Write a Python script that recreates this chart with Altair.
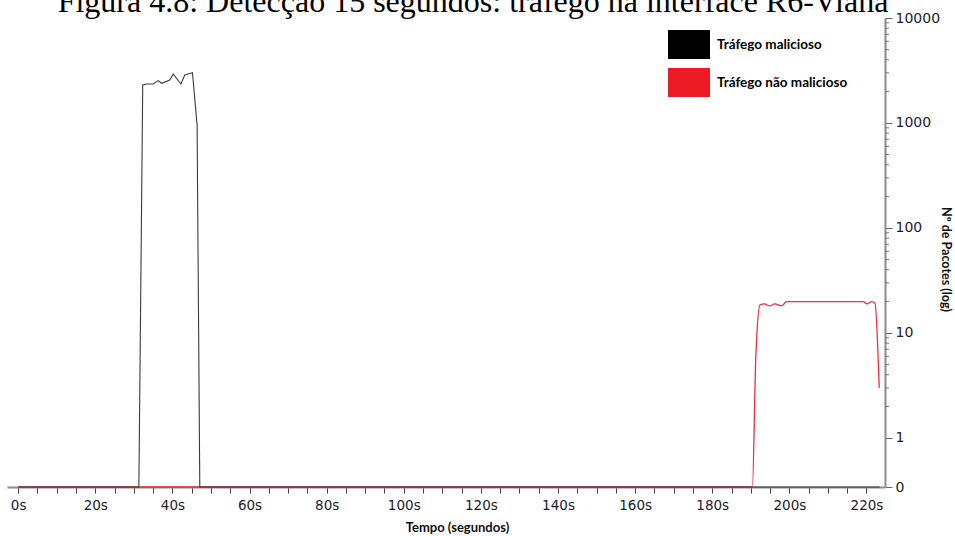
import altair as alt
import pandas as pd

# Packets per time sample, malicious traffic (black series)
mal_t = [0, 31.3, 32.3, 33.3, 35.0, 36.3, 37.2, 39.3, 40.2, 42.2, 43.2, 45.2, 46.4, 47.1, 223.4]
mal_pkts = [0, 0, 2300, 2350, 2350, 2530, 2390, 2570, 2930, 2350, 2870, 3010, 955, 0, 0]

# Packets per time sample, non-malicious traffic (red series)
ok_t = [0, 190.4, 191.3, 192.4, 193.6, 194.9, 196.2, 198.0, 199.3, 219.1, 220.2, 221.3, 222.2, 223.3]
ok_pkts = [0, 0, 6, 18.5, 18.9, 18.1, 18.9, 18.1, 19.9, 19.9, 18.9, 19.9, 19.2, 3]

series_names = ["Tráfego malicioso", "Tráfego não malicioso"]
series_colors = ["#000000", "#ed1c24"]

x_tick_values = list(range(0, 225, 5))
y_tick_packets = [0, 1, 10, 100, 1000, 10000]
minor_tick_packets = [m * 10 ** k for k in range(0, 4) for m in range(2, 10)]

TITLE = "Figura 4.8: Detecção 15 segundos: tráfego na interface R6-Viana"
ZERO_POS = -0.467  # where a count of zero sits below the first decade
W, H = 878, 469

log_expr = f"datum.pkts > 0 ? log(datum.pkts) / LN10 : {ZERO_POS}"
y_tick_pos = [ZERO_POS] + [0, 1, 2, 3, 4]

mal_df = pd.DataFrame({"t": mal_t, "pkts": mal_pkts})
ok_df = pd.DataFrame({"t": ok_t, "pkts": ok_pkts})
minor_df = pd.DataFrame({"pkts": minor_tick_packets})

x_enc = alt.X(
    "t:Q",
    scale=alt.Scale(domain=[-2.9, 224.8], nice=False, zero=False),
    axis=alt.Axis(
        values=x_tick_values,
        labelExpr="datum.value % 20 === 0 ? datum.value + 's' : ''",
        title="Tempo (segundos)",
        titleFont="Lato", titleFontWeight="bold", titleFontSize=13, titleColor="#111111",
        titleX=450, titleY=40, titleAlign="center", titleBaseline="middle",
        labelFont="DejaVu Sans", labelFontSize=13.5, labelColor="#1c1c2c",
        labelPadding=5, labelFlush=False, labelOverlap=False,
        tickSize=6, tickColor="#444444", tickWidth=1,
        domainColor="#8c8c8c", domainWidth=2, grid=False,
    ),
)

y_enc = alt.Y(
    "L:Q",
    scale=alt.Scale(domain=[ZERO_POS, 4], nice=False, zero=False),
    axis=alt.Axis(
        orient="right",
        values=y_tick_pos,
        labelExpr="datum.value < 0 ? '0' : format(pow(10, datum.value), 'd')",
        title="Nº de Pacotes (log)",
        titleFont="Lato", titleFontWeight="bold", titleFontSize=12.5, titleColor="#111111",
        titleAngle=90, titleX=60, titleY=241, titleAlign="center", titleBaseline="middle",
        labelFont="DejaVu Sans", labelFontSize=14, labelColor="#1c1c2c",
        labelAlign="left", labelBaseline="middle",
        labelPadding=3, labelFlush=False, labelOverlap=False,
        tickSize=7, tickColor="#666666", tickWidth=1,
        domainColor="#8c8c8c", domainWidth=2, grid=False,
    ),
)

red_line = (
    alt.Chart(ok_df)
    .transform_calculate(L=log_expr)
    .mark_line(color="#ef2d3e", strokeWidth=1.3, interpolate="monotone")
    .encode(x=x_enc, y=y_enc)
)

black_line = (
    alt.Chart(mal_df)
    .transform_calculate(L=log_expr)
    .mark_line(color="#3a3a3a", strokeWidth=1.1)
    .encode(x=x_enc, y=y_enc)
)

# Minor log ticks on the right-hand axis
minor_ticks = (
    alt.Chart(minor_df)
    .transform_calculate(L=log_expr)
    .mark_rule(color="#777777", strokeWidth=1)
    .encode(x=alt.value(W), x2=alt.value(W + 4), y=y_enc)
)

legend_layers = []
for i, (name, col) in enumerate(zip(series_names, series_colors)):
    step = 38 * i
    legend_layers.append(
        alt.Chart(alt.Data(values=[{}]))
        .mark_rect(color=col)
        .encode(x=alt.value(661), x2=alt.value(703), y=alt.value(12 + step), y2=alt.value(41 + step))
    )
    legend_layers.append(
        alt.Chart(alt.Data(values=[{}]))
        .mark_text(align="left", baseline="middle", font="Lato", fontWeight="bold",
                   fontSize=13.5, color="#000000")
        .encode(x=alt.value(710), y=alt.value(27 + step), text=alt.value(name))
    )

title_text = (
    alt.Chart(alt.Data(values=[{}]))
    .mark_text(align="center", baseline="alphabetic", font="Liberation Serif",
               fontSize=32, color="#000000")
    .encode(x=alt.value(466), y=alt.value(-6), text=alt.value(TITLE))
)

chart = (
    alt.layer(red_line, black_line, minor_ticks, *legend_layers, title_text)
    .properties(
        width=W, height=H,
        autosize=alt.AutoSizeParams(type="none"),
        padding={"left": 7, "top": 18, "right": 70, "bottom": 49},
        background="white",
    )
    .configure_view(stroke=None)
)

chart.save("out.html", embed_options={"renderer": "svg", "actions": False})
